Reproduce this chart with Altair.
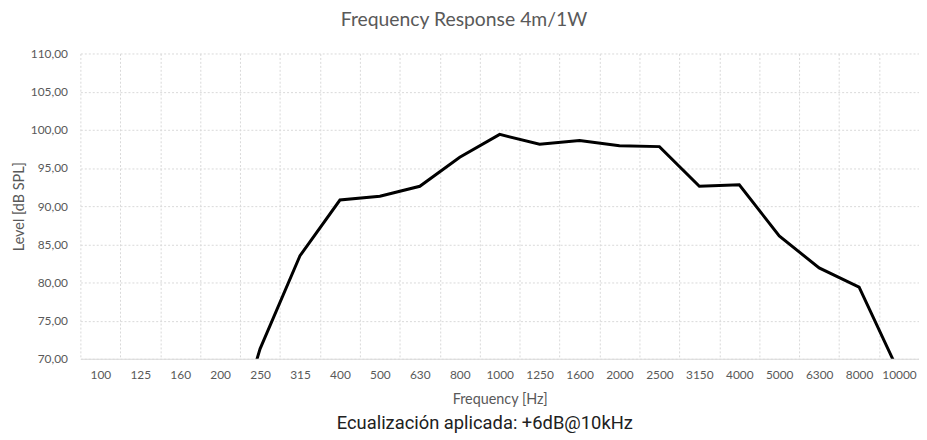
import altair as alt
import pandas as pd

# Categories (1/3-octave centre frequencies, Hz)
freqs = ["100", "125", "160", "200", "250", "315", "400", "500", "630", "800",
         "1000", "1250", "1600", "2000", "2500", "3150", "4000", "5000", "6300",
         "8000", "10000"]

# Measured level (dB SPL); points below 70 are clipped by the axis
meas_freqs = ["200", "250", "315", "400", "500", "630", "800", "1000", "1250",
              "1600", "2000", "2500", "3150", "4000", "5000", "6300", "8000", "10000"]
levels = [54.0, 71.3, 83.5, 90.8, 91.3, 92.6, 96.4, 99.4, 98.1,
          98.6, 97.9, 97.8, 92.6, 92.8, 86.1, 81.9, 79.4, 68.2]

y_ticks = [70, 75, 80, 85, 90, 95, 100, 105, 110]

title_text = "Frequency Response 4m/1W"
caption_text = "Ecualización aplicada: +6dB@10kHz"

df = pd.DataFrame({"freq": meas_freqs, "level": levels})
cap = pd.DataFrame({"t": [caption_text]})

GRAY = "#595959"
GRID = "#d9d9d9"
FONT = "Lato"

line = alt.Chart(df).mark_line(color="black", strokeWidth=3, clip=True,
                               strokeJoin="miter").encode(
    x=alt.X("freq:O", bandPosition=0.5,
            scale=alt.Scale(type="band", domain=freqs, paddingInner=0, paddingOuter=0),
            axis=alt.Axis(title="Frequency [Hz]", labelAngle=0, labelPadding=11,
                          ticks=False, tickBand="extent", grid=True,
                          gridColor=GRID, gridDash=[2, 2], gridWidth=1,
                          domain=True, domainColor=GRID,
                          labelFont=FONT, labelFontSize=12, labelColor=GRAY,
                          titleFont=FONT, titleFontSize=14.5, titleColor=GRAY,
                          titleFontWeight="normal", titlePadding=12)),
    y=alt.Y("level:Q",
            scale=alt.Scale(domain=[70, 110], nice=False, zero=False),
            axis=alt.Axis(title="Level [dB SPL]", values=y_ticks,
                          labelExpr="replace(format(datum.value, '.2f'), '.', ',')",
                          ticks=False, domain=False, labelPadding=13,
                          grid=True, gridColor=GRID, gridDash=[2, 2], gridWidth=1,
                          labelFont=FONT, labelFontSize=12, labelColor=GRAY,
                          titleFont=FONT, titleFontSize=14.5, titleColor=GRAY,
                          titleFontWeight="normal", titlePadding=4))
)

caption = alt.Chart(cap).mark_text(font="Roboto", fontSize=18.5, color="#212121",
                                   baseline="middle", align="center").encode(
    text="t:N", x=alt.value(408), y=alt.value(373)
)

chart = alt.layer(line, caption).properties(
    width=846, height=308,
    title=alt.TitleParams(title_text, font=FONT, fontSize=19.5, color=GRAY,
                          fontWeight="normal", anchor="middle", frame="group",
                          dx=-36, offset=17),
    autosize=alt.AutoSizeParams(type="none"),
    padding={"left": 73, "top": 44, "right": 0, "bottom": 76},
).configure_view(stroke=None)

chart.save("out.html", embed_options={"renderer": "svg", "actions": False})
